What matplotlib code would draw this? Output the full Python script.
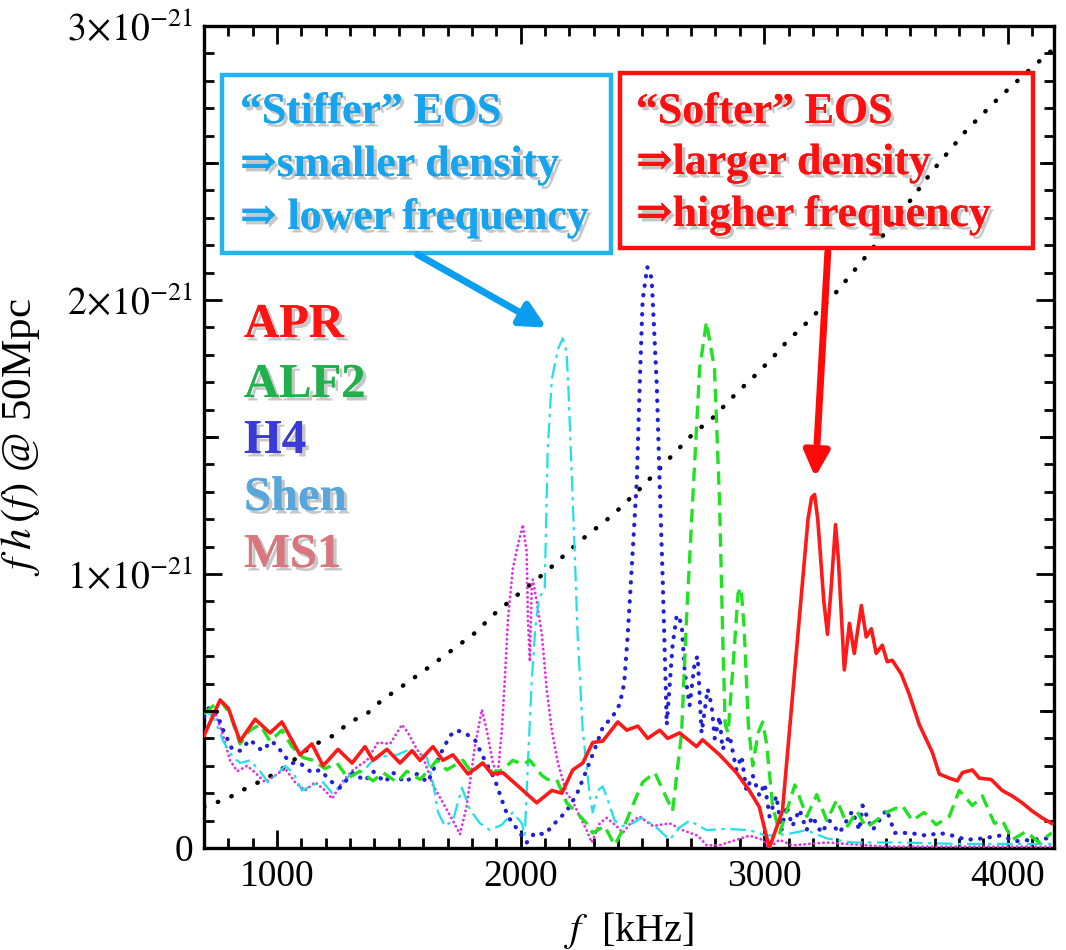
import numpy as np
import matplotlib
matplotlib.use("Agg")
import matplotlib.pyplot as plt
import matplotlib.patheffects as pe
from matplotlib.patches import Rectangle, FancyArrowPatch
from matplotlib.ticker import MultipleLocator, FixedLocator

plt.rcParams['font.family'] = ['Liberation Serif', 'DejaVu Serif']
plt.rcParams['mathtext.fontset'] = 'stix'

# frequency [kHz] and f*h(f) in units of 1e-21
f_apr = [700, 766, 800, 848, 910, 971, 1020, 1094, 1143, 1189, 1250, 1308, 1361, 1394, 1451,
         1505, 1554, 1587, 1640, 1681, 1722, 1784, 1845, 1882, 1927, 1997, 2066, 2128, 2169,
         2214, 2255, 2296, 2337, 2399, 2436, 2481, 2522, 2571, 2604, 2653, 2722, 2747, 2817,
         2886, 2939, 2980, 3021, 3075, 3180, 3195, 3207, 3220, 3245, 3260, 3275, 3293, 3305,
         3329, 3350, 3370, 3399, 3419, 3440, 3460, 3485, 3505, 3526, 3563, 3596, 3637, 3690,
         3719, 3760, 3793, 3814, 3855, 3883, 3932, 3977, 4018, 4059, 4100, 4141, 4180]
h_apr = [0.41, 0.54, 0.51, 0.39, 0.47, 0.42, 0.46, 0.34, 0.38, 0.30, 0.36, 0.31, 0.37, 0.32, 0.36,
         0.31, 0.355, 0.32, 0.37, 0.32, 0.34, 0.27, 0.31, 0.27, 0.275, 0.22, 0.165, 0.21, 0.20,
         0.285, 0.31, 0.385, 0.39, 0.46, 0.43, 0.445, 0.40, 0.43, 0.40, 0.42, 0.37, 0.395, 0.34,
         0.275, 0.21, 0.15, 0.0, 0.135, 1.20, 1.28, 1.29, 1.20, 0.90, 0.78, 0.95, 1.18, 1.05,
         0.65, 0.82, 0.71, 0.885, 0.77, 0.80, 0.71, 0.74, 0.68, 0.685, 0.635, 0.56, 0.45, 0.35,
         0.27, 0.255, 0.245, 0.275, 0.285, 0.255, 0.25, 0.21, 0.19, 0.165, 0.135, 0.11, 0.09]

f_alf2 = [700, 766, 807, 848, 889, 930, 971, 1020, 1061, 1107, 1148, 1197, 1246, 1291, 1340,
          1394, 1435, 1492, 1533, 1587, 1628, 1656, 1697, 1763, 1800, 1841, 1886, 1927, 1968,
          2009, 2038, 2087, 2111, 2148, 2189, 2230, 2271, 2296, 2345, 2386, 2419, 2460, 2501,
          2551, 2624, 2661, 2681, 2706, 2735, 2763, 2796, 2817, 2829, 2840, 2852, 2875, 2893,
          2905, 2918, 2935, 2953, 2975, 2994, 3010, 3035, 3064, 3126, 3175, 3216, 3257, 3298,
          3343, 3380, 3419, 3460, 3501, 3567, 3608, 3657, 3706, 3760, 3801, 3855, 3896, 3945,
          3978, 4018, 4075, 4128, 4180]
h_alf2 = [0.49, 0.54, 0.49, 0.38, 0.43, 0.45, 0.39, 0.43, 0.37, 0.33, 0.32, 0.29, 0.31, 0.255, 0.28,
          0.245, 0.275, 0.24, 0.28, 0.25, 0.29, 0.32, 0.285, 0.32, 0.275, 0.31, 0.275, 0.285, 0.32,
          0.305, 0.32, 0.265, 0.25, 0.25, 0.165, 0.13, 0.09, 0.055, 0.08, 0.01, 0.065, 0.155, 0.24,
          0.275, 0.135, 0.42, 0.835, 1.26, 1.75, 1.92, 1.75, 1.26, 0.80, 0.45, 0.42, 0.70, 0.93,
          0.95, 0.80, 0.45, 0.30, 0.42, 0.46, 0.38, 0.15, 0.055, 0.23, 0.115, 0.195, 0.10, 0.175,
          0.08, 0.135, 0.075, 0.10, 0.13, 0.155, 0.10, 0.13, 0.085, 0.115, 0.21, 0.155, 0.19, 0.09,
          0.10, 0.03, 0.06, 0.02, 0.055]

f_h4 = [700, 717, 746, 779, 816, 848, 889, 938, 979, 1020, 1053, 1094, 1143, 1176, 1226, 1258,
        1312, 1361, 1394, 1443, 1476, 1525, 1574, 1619, 1669, 1710, 1738, 1779, 1812, 1853, 1894,
        1923, 1948, 1989, 2025, 2058, 2099, 2140, 2189, 2230, 2271, 2304, 2337, 2378, 2407, 2425,
        2440, 2460, 2477, 2489, 2501, 2520, 2538, 2559, 2571, 2584, 2600, 2624, 2641, 2661, 2674,
        2694, 2715, 2727, 2743, 2768, 2784, 2797, 2817, 2829, 2858, 2886, 2907, 2927, 2953, 2981,
        3002, 3022, 3050, 3071, 3091, 3116, 3145, 3174, 3198, 3235, 3268, 3309, 3362, 3391, 3404,
        3445, 3503, 3536, 3597, 3667, 3720, 3774, 3831, 3897, 3966, 4036, 4102, 4159, 4180]
h_h4 = [0.48, 0.51, 0.505, 0.43, 0.36, 0.355, 0.395, 0.355, 0.39, 0.35, 0.31, 0.31, 0.275, 0.285,
        0.24, 0.22, 0.275, 0.245, 0.28, 0.24, 0.275, 0.24, 0.27, 0.24, 0.34, 0.41, 0.43, 0.415,
        0.395, 0.32, 0.25, 0.175, 0.115, 0.065, 0.02, 0.055, 0.05, 0.09, 0.135, 0.195, 0.285, 0.36,
        0.44, 0.48, 0.525, 0.60, 0.78, 1.08, 1.34, 1.69, 2.0, 2.12, 2.08, 1.69, 1.33, 0.96, 0.45,
        0.74, 0.85, 0.82, 0.64, 0.52, 0.68, 0.70, 0.42, 0.58, 0.52, 0.40, 0.48, 0.36, 0.41, 0.285,
        0.335, 0.21, 0.265, 0.19, 0.235, 0.115, 0.19, 0.065, 0.155, 0.08, 0.14, 0.065, 0.115, 0.055,
        0.10, 0.055, 0.135, 0.065, 0.155, 0.065, 0.14, 0.055, 0.055, 0.045, 0.055, 0.045, 0.03,
        0.035, 0.045, 0.025, 0.03, 0.035, 0.02]

f_shen = [700, 713, 738, 779, 816, 848, 889, 930, 963, 1000, 1033, 1066, 1102, 1148, 1189, 1226,
          1258, 1308, 1353, 1394, 1443, 1492, 1533, 1574, 1615, 1640, 1661, 1689, 1722, 1759, 1792,
          1833, 1874, 1923, 1968, 2005, 2017, 2030, 2045, 2060, 2075, 2099, 2111, 2128, 2153, 2173,
          2189, 2197, 2209, 2222, 2234, 2255, 2284, 2296, 2317, 2337, 2358, 2386, 2419, 2460, 2497,
          2551, 2612, 2653, 2694, 2764, 2846, 2940, 3010, 3091, 3174, 3257, 3363, 3555, 3800, 4180]
h_shen = [0.50, 0.495, 0.48, 0.39, 0.335, 0.31, 0.32, 0.28, 0.24, 0.27, 0.30, 0.275, 0.21, 0.23,
          0.24, 0.20, 0.225, 0.275, 0.28, 0.32, 0.335, 0.34, 0.355, 0.35, 0.33, 0.24, 0.13, 0.08,
          0.10, 0.22, 0.14, 0.09, 0.065, 0.085, 0.13, 0.09, 0.045, 0.31, 0.60, 0.80, 0.91, 0.95,
          1.45, 1.71, 1.82, 1.86, 1.81, 1.66, 1.385, 1.08, 0.78, 0.43, 0.19, 0.13, 0.21, 0.225,
          0.175, 0.10, 0.08, 0.09, 0.11, 0.08, 0.03, 0.075, 0.10, 0.065, 0.07, 0.065, 0.045, 0.05,
          0.065, 0.035, 0.02, 0.02, 0.015, 0.015]

f_ms1 = [700, 713, 746, 775, 807, 836, 877, 910, 951, 992, 1033, 1074, 1115, 1156, 1197, 1226,
         1267, 1312, 1369, 1414, 1464, 1513, 1538, 1574, 1600, 1640, 1681, 1722, 1751, 1779, 1812,
         1841, 1861, 1886, 1906, 1923, 1935, 1948, 1968, 1985, 2009, 2025, 2030, 2038, 2046, 2050,
         2066, 2087, 2107, 2128, 2153, 2189, 2214, 2243, 2271, 2292, 2325, 2353, 2394, 2419, 2460,
         2489, 2543, 2612, 2666, 2727, 2764, 2817, 2886, 2940, 2994, 3021, 3062, 3116, 3257, 3500,
         4180]
h_ms1 = [0.49, 0.50, 0.49, 0.42, 0.32, 0.28, 0.30, 0.275, 0.24, 0.265, 0.29, 0.24, 0.21, 0.24,
         0.21, 0.18, 0.24, 0.285, 0.32, 0.385, 0.38, 0.45, 0.42, 0.36, 0.33, 0.23, 0.165, 0.10,
         0.05, 0.155, 0.37, 0.505, 0.43, 0.31, 0.265, 0.43, 0.615, 0.835, 1.02, 1.09, 1.18, 1.08,
         0.835, 0.68, 0.96, 0.98, 0.90, 0.78, 0.58, 0.43, 0.31, 0.20, 0.17, 0.115, 0.065, 0.02,
         0.09, 0.11, 0.08, 0.055, 0.10, 0.115, 0.08, 0.09, 0.065, 0.045, 0.01, 0.01, 0.03, 0.045,
         0.03, 0.0, 0.03, 0.01, 0.02, 0.005, 0.005]

# detector noise curve
f_noise = [700, 795, 877, 959, 1041, 1094, 1148, 1230, 1300, 1369, 1431, 1505, 1600, 1700, 1835,
           1866, 1968, 2107, 2243, 2378, 2489, 2571, 2641, 2706, 2789, 2886, 2969, 3035, 3105,
           3145, 3288, 3428, 3555, 3690, 3831, 3966, 4102, 4180]
h_noise = [0.15, 0.18, 0.22, 0.255, 0.30, 0.34, 0.375, 0.41, 0.46, 0.49, 0.54, 0.585, 0.645, 0.71,
           0.80, 0.835, 0.91, 1.01, 1.12, 1.215, 1.31, 1.385, 1.45, 1.51, 1.57, 1.66, 1.73, 1.79,
           1.86, 1.89, 2.02, 2.17, 2.31, 2.47, 2.62, 2.74, 2.85, 2.91]

eos_names = ["APR", "ALF2", "H4", "Shen", "MS1"]
eos_label_colors = ["#ff1414", "#22b04c", "#3a3ad8", "#58a6da", "#d9777f"]

W, H = 1066, 950
fig = plt.figure(figsize=(W / 100, H / 100), dpi=100)
ax = fig.add_axes([204 / W, 1 - 848 / H, 850 / W, 822 / H])

ax.plot(f_noise, h_noise, color="black", lw=3.2, linestyle=(0, (0.1, 3.2)),
        dash_capstyle="round", zorder=2)
ax.plot(f_ms1, h_ms1, color="#e030e0", lw=2.0, linestyle=(0, (0.1, 1.6)),
        dash_capstyle="round", zorder=3)
ax.plot(f_shen, h_shen, color="#20e0ea", lw=1.6, linestyle=(0, (7, 2.5, 1.5, 2.5)), zorder=3)
ax.plot(f_h4, h_h4, color="#2020d8", lw=3.0, linestyle=(0, (0.1, 2.2)),
        dash_capstyle="round", zorder=4)
ax.plot(f_alf2, h_alf2, color="#22e022", lw=2.4, linestyle=(0, (4, 2.2)), zorder=4)
ax.plot(f_apr, h_apr, color="#ff1a1a", lw=2.6, solid_joinstyle="round", zorder=5)

ax.set_xlim(700, 4190)
ax.set_ylim(0, 3.0)

ax.xaxis.set_major_locator(FixedLocator([1000, 2000, 3000, 4000]))
ax.xaxis.set_minor_locator(MultipleLocator(100))
ax.set_xticklabels(["1000", "2000", "3000", "4000"])
ax.yaxis.set_major_locator(FixedLocator([0, 1, 2, 3]))
ax.yaxis.set_minor_locator(MultipleLocator(0.1))
ax.set_yticklabels(["0", r"$1\!\times\!10^{-21}$", r"$2\!\times\!10^{-21}$", r"$3\!\times\!10^{-21}$"])

ax.tick_params(which="both", direction="in", top=True, right=True, width=2.0, labelsize=27)
ax.tick_params(which="major", length=13, pad=8)
ax.tick_params(which="minor", length=7)
for sp in ax.spines.values():
    sp.set_linewidth(2.4)

# half-unit ticks on the y axis are drawn a bit longer
for yv in (0.5, 1.5, 2.5):
    for xa, sgn in ((0, 1), (1, -1)):
        ax.plot([xa, xa + sgn * 0.0153], [yv, yv], transform=ax.get_yaxis_transform(),
                color="black", lw=2.0, clip_on=False, zorder=6)

ax.set_xlabel(r"$f$  [kHz]", fontsize=29)
ax.xaxis.set_label_coords(0.5, -0.075)
ax.set_ylabel(r"$f\;h\,(f)$ @ 50Mpc", fontsize=31)
ax.yaxis.set_label_coords(-0.19, 0.5)

shadow = [pe.withSimplePatchShadow(offset=(2.5, -2.5), shadow_rgbFace="0.45", alpha=0.4),
          pe.Normal()]


def fx(px):
    return px / W


def fy(py):
    return 1 - py / H


# EOS names
for name, col, py in zip(eos_names, eos_label_colors, [325, 385, 441, 498, 555]):
    fig.text(fx(244), fy(py), name, color=col, fontsize=35, fontweight="bold",
             va="center", ha="left", path_effects=shadow)

# stiff / soft boxes
blue = "#17a4ee"
fig.add_artist(Rectangle((fx(222), fy(253)), fx(611) - fx(222), fy(75) - fy(253),
                         transform=fig.transFigure, fill=False, ec="#22b4ee", lw=3.2))
fig.add_artist(Rectangle((fx(620), fy(248)), fx(1033) - fx(620), fy(73) - fy(248),
                         transform=fig.transFigure, fill=False, ec="#ff1010", lw=3.2))

for txt, py in zip(["\u201cStiffer\u201d EOS", "\u21d2smaller density", "\u21d2 lower frequency"],
                   [112, 165, 218]):
    fig.text(fx(240), fy(py), txt, color=blue, fontsize=31.5, fontweight="bold",
             va="center", ha="left", path_effects=shadow)
for txt, py in zip(["\u201cSofter\u201d EOS", "\u21d2larger density", "\u21d2higher frequency"],
                   [112, 163, 215]):
    fig.text(fx(636), fy(py), txt, color="#ff1010", fontsize=31.5, fontweight="bold",
             va="center", ha="left", path_effects=shadow)

fig.add_artist(FancyArrowPatch((fx(415), fy(253)), (fx(549), fy(329)),
                               transform=fig.transFigure, arrowstyle="-|>",
                               mutation_scale=38, lw=5, color="#0b9ef0"))
fig.add_artist(FancyArrowPatch((fx(828), fy(249)), (fx(815), fy(480)),
                               transform=fig.transFigure, arrowstyle="-|>",
                               mutation_scale=38, lw=5, color="#ff0a0a"))

fig.savefig("out.png", dpi=100)
